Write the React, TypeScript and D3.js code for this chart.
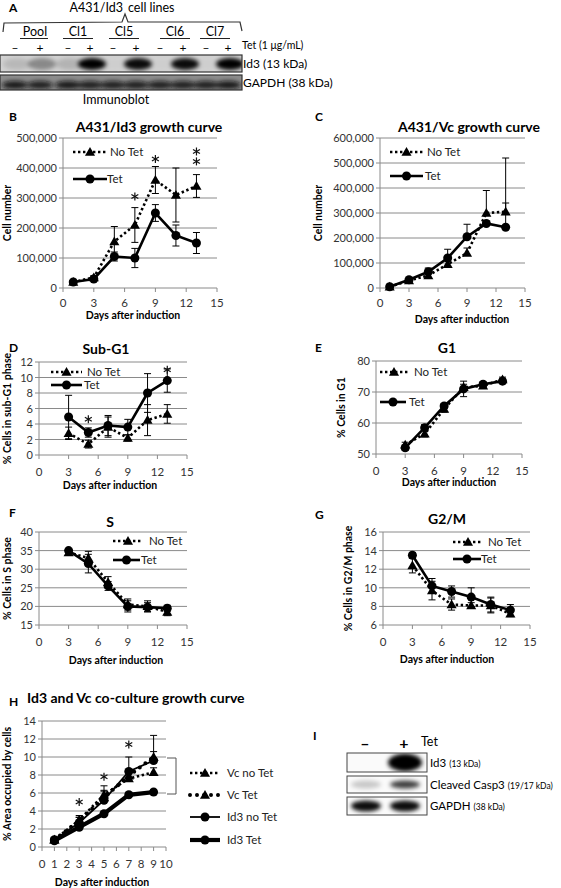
import React from 'react';
import * as d3 from 'd3';

const FONT = "Lato, 'Open Sans', 'DejaVu Sans', sans-serif";

// ---------- data ----------
const growthDays = [1, 3, 5, 7, 9, 11, 13];
const cycleDays = [3, 5, 7, 9, 11, 13];
const coDays = [1, 3, 5, 7, 9];
const xTicks15 = [0, 3, 6, 9, 12, 15];
const xTicks10 = [0, 1, 2, 3, 4, 5, 6, 7, 8, 9, 10];

// B: A431/Id3 growth curve
const bNoTet = [20000, 35000, 155000, 210000, 360000, 310000, 340000];
const bNoTetErr = [5000, 6000, 50000, 58000, 45000, 90000, 38000];
const bTet = [20000, 30000, 105000, 100000, 250000, 175000, 150000];
const bTetErr = [5000, 6000, 15000, 32000, 28000, 35000, 35000];
const bTicks = [0, 100000, 200000, 300000, 400000, 500000];
const bStars = [{ x: 7, y: 305000 }, { x: 9, y: 430000 }, { x: 13, y: 455000 }, { x: 13, y: 422000 }];

// C: A431/Vc growth curve
const cNoTet = [5000, 30000, 50000, 95000, 140000, 300000, 305000];
const cNoTetErr = [3000, 5000, 12000, 15000, 20000, 90000, 35000];
const cTet = [5000, 33000, 65000, 120000, 205000, 258000, 243000];
const cTetErr = [3000, 5000, 15000, 35000, 50000, 10000, 277000];
const cTicks = [0, 100000, 200000, 300000, 400000, 500000, 600000];

// D: Sub-G1
const dNoTet = [2.8, 1.4, 3.6, 2.2, 4.5, 5.3];
const dNoTetErr = [0.8, 0.5, 1.3, 0.4, 2.0, 1.2];
const dTet = [4.9, 2.9, 3.8, 3.6, 8.0, 9.6];
const dTetErr = [2.8, 0.6, 1.3, 1.0, 2.5, 1.5];
const dTicks = [0, 2, 4, 6, 8, 10, 12];
const dStars = [{ x: 5, y: 4.6 }, { x: 13, y: 11.0 }];

// E: G1
const eNoTet = [53, 56.5, 64.5, 71.5, 72, 74];
const eNoTetErr = [0.8, 1, 1, 1, 0.8, 0.8];
const eTet = [52, 58.5, 65.5, 71, 72.5, 73.5];
const eTetErr = [0.8, 1, 0.8, 2.5, 0.8, 0.8];
const eTicks = [50, 60, 70, 80];

// F: S
const fNoTet = [34.5, 33, 26.5, 20.5, 20, 18.5];
const fNoTetErr = [0.8, 1.8, 1.5, 1.5, 1.5, 1];
const fTet = [35, 31.5, 25.5, 20, 19.8, 19.5];
const fTetErr = [0.5, 2.5, 1.2, 1.5, 1.2, 0.8];
const fTicks = [15, 20, 25, 30, 35, 40];

// G: G2/M
const gNoTet = [12.4, 9.7, 8.2, 8.1, 8.1, 7.2];
const gNoTetErr = [0.8, 1, 0.6, 0.3, 0.8, 0.3];
const gTet = [13.5, 10.2, 9.6, 9.0, 8.2, 7.6];
const gTetErr = [0.3, 0.8, 0.6, 1, 0.8, 0.6];
const gTicks = [6, 8, 10, 12, 14, 16];

// H: co-culture
const hVcNoTet = [0.8, 3.0, 5.8, 7.6, 8.3];
const hVcNoTetErr = [0.2, 0.5, 1.0, 0.8, 0.5];
const hVcTet = [0.8, 2.9, 5.5, 7.9, 10.0];
const hVcTetErr = [0.2, 0.4, 0.8, 0.6, 0.6];
const hId3NoTet = [0.8, 2.7, 5.2, 8.4, 9.6];
const hId3NoTetErr = [0.2, 0.6, 1.0, 1.6, 2.8];
const hId3Tet = [0.7, 2.2, 3.7, 5.8, 6.1];
const hId3TetErr = [0.1, 0.2, 0.2, 0.2, 0.3];
const hTicks = [0, 2, 4, 6, 8, 10, 12, 14];
const hStars = [{ x: 3, y: 5.0 }, { x: 5, y: 7.8 }, { x: 7, y: 11.4 }];

// A: blot
const laneLabels = ['Pool', 'Cl1', 'Cl5', 'Cl6', 'Cl7'];
const laneSigns = ['–', '+', '–', '+', '–', '+', '–', '+', '–', '+'];
const id3Intensity = [0.12, 0.35, 0.15, 1, 0.02, 0.95, 0.02, 0.95, 0.02, 1];
const gapdhIntensity = [0.9, 0.85, 0.9, 0.85, 0.85, 0.85, 0.85, 0.85, 0.85, 0.9];

// I: blot
const iSigns = ['–', '+'];
const iRows = ['Id3', 'Cleaved Casp3', 'GAPDH'];
const iSizes = ['(13 kDa)', '(19/17 kDa)', '(38 kDa)'];
const iIntensity = [[0, 1], [0.2, 0.75], [0.95, 0.95]];

// ---------- helpers ----------
type Style = 'dot' | 'solid' | 'bigdot' | 'thin' | 'thick';
type Marker = 'tri' | 'circ';
interface Series { x: number[]; y: number[]; err: number[]; style: Style; marker: Marker; }
interface LegendItem { x1: number; x2: number; y: number; text: string; tx: number; style: Style; marker: Marker; }

const strokeProps = (s: Style): any => {
  switch (s) {
    case 'dot': return { strokeWidth: 2.6, strokeDasharray: '2.4 2.6' };
    case 'bigdot': return { strokeWidth: 4, strokeDasharray: '0 7', strokeLinecap: 'round' };
    case 'thin': return { strokeWidth: 1.8 };
    case 'thick': return { strokeWidth: 4.2 };
    default: return { strokeWidth: 2.6 };
  }
};

const MarkerShape = ({ m, x, y, s = 1 }: { m: Marker; x: number; y: number; s?: number }) =>
  m === 'tri'
    ? <path d={d3.symbol(d3.symbolTriangle, 44 * s)()!} transform={`translate(${x},${y + 0.8})`} fill="#000" />
    : <circle cx={x} cy={y} r={4.5 * s} fill="#000" />;

const Star = ({ x, y }: { x: number; y: number }) => {
  const r = 4;
  const spokes = [90, 30, 150];
  return (
    <g stroke="#111" strokeWidth={1.2}>
      {spokes.map(a => {
        const dx = r * Math.cos((a * Math.PI) / 180);
        const dy = r * Math.sin((a * Math.PI) / 180);
        return <line key={a} x1={x - dx} y1={y - dy} x2={x + dx} y2={y + dy} />;
      })}
    </g>
  );
};

interface PanelProps {
  x0: number; x1: number; yT: number; yB: number;
  xDomain: [number, number]; xTicks: number[];
  yDomain: [number, number]; yTicks: number[]; yFmt?: (v: number) => string;
  series: Series[]; errDir?: 'both' | 'up';
  stars?: { x: number; y: number }[];
  title: string; titleX: number; titleY: number; titleAnchor?: string;
  letter: string; letterX: number; letterY: number;
  yLabel: string; yLabelX: number;
  xLabel: string; xLabelX: number; xLabelY: number;
  legend: LegendItem[];
  tickOff?: number;
}

const Panel = (p: PanelProps) => {
  const xs = d3.scaleLinear().domain(p.xDomain).range([p.x0, p.x1]);
  const ys = d3.scaleLinear().domain(p.yDomain).range([p.yB, p.yT]);
  const fmt = p.yFmt || ((v: number) => String(v));
  const grid = '#8a8a8a';
  const tickOff = p.tickOff ?? 21;
  return (
    <g fontFamily={FONT}>
      <text x={p.letterX} y={p.letterY} fontSize={12} fontWeight="bold">{p.letter}</text>
      <text x={p.titleX} y={p.titleY} fontSize={14} fontWeight="bold" textAnchor={p.titleAnchor || 'middle'}>{p.title}</text>
      {p.yTicks.map(t => (
        <g key={'y' + t}>
          {t !== p.yDomain[0] && <line x1={p.x0} x2={p.x1} y1={ys(t)} y2={ys(t)} stroke={grid} strokeWidth={1} />}
          <line x1={p.x0 - 4} x2={p.x0} y1={ys(t)} y2={ys(t)} stroke={grid} />
          <text x={p.x0 - 6} y={ys(t) + 4} fontSize={11} fill="#333" textAnchor="end">{fmt(t)}</text>
        </g>
      ))}
      <line x1={p.x0} x2={p.x0} y1={p.yT} y2={p.yB} stroke={grid} />
      <line x1={p.x0} x2={p.x1} y1={p.yB} y2={p.yB} stroke={grid} />
      {p.xTicks.map(t => (
        <g key={'x' + t}>
          <line x1={xs(t)} x2={xs(t)} y1={p.yB} y2={p.yB + 4} stroke={grid} />
          <text x={xs(t)} y={p.yB + tickOff} fontSize={11.5} fill="#333" textAnchor="middle">{t}</text>
        </g>
      ))}
      <text transform={`translate(${p.yLabelX},${(p.yT + p.yB) / 2}) rotate(-90)`} fontSize={10.5} fontWeight="bold" textAnchor="middle">{p.yLabel}</text>
      <text x={p.xLabelX} y={p.xLabelY} fontSize={10.5} fontWeight="bold" textAnchor="middle">{p.xLabel}</text>
      {p.series.map((s, i) => {
        const line = d3.line<number>().x((_, j) => xs(s.x[j])).y(v => ys(v));
        return (
          <g key={'s' + i}>
            <path d={line(s.y)!} fill="none" stroke="#000" {...strokeProps(s.style)} />
            {s.y.map((v, j) => <MarkerShape key={j} m={s.marker} x={xs(s.x[j])} y={ys(v)} />)}
          </g>
        );
      })}
      {p.series.map((s, i) => (
        <g key={'e' + i}>
          {s.y.map((v, j) => {
            const cx = xs(s.x[j]);
            const top = ys(v + s.err[j]);
            const bot = p.errDir === 'up' ? ys(v) : ys(Math.max(p.yDomain[0], v - s.err[j]));
            return (
              <g key={j} stroke="#000" strokeWidth={1}>
                <line x1={cx} x2={cx} y1={top} y2={bot} />
                <line x1={cx - 3.5} x2={cx + 3.5} y1={top} y2={top} />
                {p.errDir !== 'up' && <line x1={cx - 3.5} x2={cx + 3.5} y1={bot} y2={bot} />}
              </g>
            );
          })}
        </g>
      ))}
      {(p.stars || []).map((st, i) => <Star key={'st' + i} x={xs(st.x)} y={ys(st.y)} />)}
      {p.legend.map((l, i) => (
        <g key={'l' + i}>
          <line x1={l.x1} x2={l.x2} y1={l.y} y2={l.y} stroke="#000" {...strokeProps(l.style)} />
          <MarkerShape m={l.marker} x={(l.x1 + l.x2) / 2} y={l.y} />
          <text x={l.tx} y={l.y + 4} fontSize={11.5} fill="#222">{l.text}</text>
        </g>
      ))}
    </g>
  );
};

const comma = d3.format(',');

const BlotA = () => {
  const lanes = [15, 40, 68, 90, 113, 136, 160, 183, 206, 228];
  const labelX = [35, 78, 124, 175, 215];
  const ul = [[20, 48], [63, 93], [109, 139], [160, 190], [200, 230]];
  return (
    <g fontFamily={FONT}>
      <text x={9} y={12} fontSize={12} fontWeight="bold">A</text>
      <text x={123} y={12} fontSize={12.5} textAnchor="end">A431/Id3</text>
      <text x={128} y={12} fontSize={12.5}>cell lines</text>
      <path d="M3,32 L4,23 L122,22 L125,14 L128,22 L240,22 L242,31" fill="none" stroke="#333" strokeWidth={1.2} />
      {laneLabels.map((t, i) => (
        <g key={t}>
          <text x={labelX[i]} y={36} fontSize={12.5} textAnchor="middle">{t}</text>
          <line x1={ul[i][0]} x2={ul[i][1]} y1={38.5} y2={38.5} stroke="#222" strokeWidth={1} />
        </g>
      ))}
      {laneSigns.map((s, i) => (
        <text key={i} x={lanes[i]} y={52} fontSize={12} textAnchor="middle">{s}</text>
      ))}
      <text x={242} y={49} fontSize={10.5}>Tet (1 μg/mL)</text>
      <defs>
        <clipPath id="clipA1"><rect x={0} y={55} width={242} height={17} /></clipPath>
        <clipPath id="clipA2"><rect x={0} y={75} width={242} height={15} /></clipPath>
        <clipPath id="clipI1"><rect x={347} y={753} width={80} height={19} /></clipPath>
        <clipPath id="clipI2"><rect x={347} y={776} width={80} height={17} /></clipPath>
        <clipPath id="clipI3"><rect x={347} y={797} width={80} height={18} /></clipPath>
        <filter id="blur" x="-50%" y="-50%" width="200%" height="200%"><feGaussianBlur stdDeviation="2.2" /></filter>
      </defs>
      <rect x={0} y={55} width={242} height={17} fill="#d2d2d2" />
      <g clipPath="url(#clipA1)" filter="url(#blur)">
        {lanes.map((x, i) => (
          <ellipse key={i} cx={x + 2} cy={64} rx={14} ry={6} fill="#000" opacity={id3Intensity[i]} />
        ))}
      </g>
      <rect x={0} y={55} width={242} height={17} fill="none" stroke="#333" strokeWidth={1.2} />
      <rect x={0} y={75} width={242} height={15} fill="#8c8c8c" />
      <g clipPath="url(#clipA2)" filter="url(#blur)">
        {lanes.map((x, i) => (
          <ellipse key={i} cx={x} cy={85} rx={13} ry={4} fill="#111" opacity={gapdhIntensity[i]} />
        ))}
      </g>
      <rect x={0} y={75} width={242} height={15} fill="none" stroke="#333" strokeWidth={1.2} />
      <text x={243} y={68} fontSize={12}>Id3 (13 kDa)</text>
      <text x={243} y={87} fontSize={12}>GAPDH (38 kDa)</text>
      <text x={116} y={104} fontSize={12.5} textAnchor="middle">Immunoblot</text>
    </g>
  );
};

const BlotI = () => {
  const lanes = [365, 404];
  const rows = [[753, 19], [776, 17], [797, 18]];
  return (
    <g fontFamily={FONT}>
      <text x={313} y={740} fontSize={12} fontWeight="bold">I</text>
      {iSigns.map((s, i) => (
        <text key={i} x={lanes[i]} y={749} fontSize={16} fontWeight="bold" textAnchor="middle">{s}</text>
      ))}
      <text x={421} y={746} fontSize={12.5}>Tet</text>
      {rows.map(([y, h], r) => (
        <g key={r}>
          <rect x={347} y={y} width={80} height={h} fill="#fafafa" />
          <g clipPath={`url(#clipI${r + 1})`} filter="url(#blur)">
            {lanes.map((x, i) => (
              <ellipse key={i} cx={x + 1} cy={y + h / 2} rx={r === 0 ? 17 : 15} ry={r === 0 ? 9 : r === 1 ? 4 : 5.5} fill="#000" opacity={iIntensity[r][i]} />
            ))}
          </g>
          <rect x={347} y={y} width={80} height={h} fill="none" stroke="#444" strokeWidth={1} />
          <text x={430} y={y + h / 2 + 4} fontSize={11.5}>
            {iRows[r]} <tspan fontSize={8.5}>{iSizes[r]}</tspan>
          </text>
        </g>
      ))}
    </g>
  );
};

export default function App() {
  const noTetLeg = (x1: number, x2: number, y: number, tx: number): LegendItem => ({ x1, x2, y, tx, text: 'No Tet', style: 'dot', marker: 'tri' });
  const tetLeg = (x1: number, x2: number, y: number, tx: number): LegendItem => ({ x1, x2, y, tx, text: 'Tet', style: 'solid', marker: 'circ' });
  const two = (xs: number[], a: number[], ae: number[], b: number[], be: number[]): Series[] => [
    { x: xs, y: a, err: ae, style: 'dot', marker: 'tri' },
    { x: xs, y: b, err: be, style: 'solid', marker: 'circ' },
  ];
  return (
    <svg width={561} height={888} style={{ position: 'absolute', left: 0, top: 0, background: '#fff' }}>
      <rect width={561} height={888} fill="#fff" />
      <BlotA />
      <Panel x0={63} x1={217} yT={138} yB={288} xDomain={[0, 15]} xTicks={xTicks15} yDomain={[0, 500000]} yTicks={bTicks} yFmt={comma}
        series={two(growthDays, bNoTet, bNoTetErr, bTet, bTetErr)} stars={bStars}
        title="A431/Id3 growth curve" titleX={149} titleY={132} letter="B" letterX={9} letterY={121}
        yLabel="Cell number" yLabelX={11} xLabel="Days  after induction" xLabelX={133} xLabelY={319} tickOff={19}
        legend={[noTetLeg(73, 107, 152, 110), tetLeg(73, 107, 179, 107)]} />
      <Panel x0={380} x1={525} yT={138} yB={288} xDomain={[0, 15]} xTicks={xTicks15} yDomain={[0, 600000]} yTicks={cTicks} yFmt={comma}
        series={two(growthDays, cNoTet, cNoTetErr, cTet, cTetErr)} errDir="up"
        title="A431/Vc growth curve" titleX={469} titleY={132} letter="C" letterX={315} letterY={121}
        yLabel="Cell number" yLabelX={322} xLabel="Days  after induction" xLabelX={462} xLabelY={323} tickOff={19}
        legend={[noTetLeg(390, 423, 152, 427), tetLeg(390, 423, 176, 425)]} />
      <Panel x0={39} x1={187} yT={362} yB={455} xDomain={[0, 15]} xTicks={xTicks15} yDomain={[0, 12]} yTicks={dTicks}
        series={two(cycleDays, dNoTet, dNoTetErr, dTet, dTetErr)} stars={dStars}
        title="Sub-G1" titleX={106} titleY={354} letter="D" letterX={9} letterY={352}
        yLabel="% Cells in  sub-G1 phase" yLabelX={11} xLabel="Days  after induction" xLabelX={110} xLabelY={489}
        legend={[noTetLeg(51, 82, 372, 87), tetLeg(51, 82, 385, 84)]} />
      <Panel x0={376} x1={522} yT={361} yB={454} xDomain={[0, 15]} xTicks={xTicks15} yDomain={[50, 80]} yTicks={eTicks}
        series={two(cycleDays, eNoTet, eNoTetErr, eTet, eTetErr)}
        title="G1" titleX={447} titleY={353} letter="E" letterX={315} letterY={352}
        yLabel="% Cells in G1" yLabelX={345} xLabel="Days  after induction" xLabelX={449} xLabelY={486}
        legend={[noTetLeg(380, 408, 372, 414), tetLeg(380, 406, 402, 409)]} />
      <Panel x0={39} x1={187} yT={532} yB={625} xDomain={[0, 15]} xTicks={xTicks15} yDomain={[15, 40]} yTicks={fTicks}
        series={two(cycleDays, fNoTet, fNoTetErr, fTet, fTetErr)}
        title="S" titleX={110} titleY={527} letter="F" letterX={9} letterY={517}
        yLabel="% Cells in  S  phase" yLabelX={11} xLabel="Days  after induction" xLabelX={116} xLabelY={664}
        legend={[noTetLeg(113, 143, 541, 149), tetLeg(113, 140, 560, 141)]} />
      <Panel x0={383} x1={530} yT={532} yB={625} xDomain={[0, 15]} xTicks={xTicks15} yDomain={[6, 16]} yTicks={gTicks}
        series={two(cycleDays, gNoTet, gNoTetErr, gTet, gTetErr)}
        title="G2/M" titleX={447} titleY={524} letter="G" letterX={315} letterY={519}
        yLabel="% Cells in  G2/M phase" yLabelX={352} xLabel="Days  after induction" xLabelX={447} xLabelY={663}
        legend={[noTetLeg(453, 483, 542, 488), tetLeg(453, 481, 559, 481)]} />
      <Panel x0={42} x1={166} yT={721} yB={847} xDomain={[0, 10]} xTicks={xTicks10} yDomain={[0, 14]} yTicks={hTicks}
        series={[
          { x: coDays, y: hVcNoTet, err: hVcNoTetErr, style: 'dot', marker: 'tri' },
          { x: coDays, y: hVcTet, err: hVcTetErr, style: 'bigdot', marker: 'tri' },
          { x: coDays, y: hId3NoTet, err: hId3NoTetErr, style: 'thin', marker: 'circ' },
          { x: coDays, y: hId3Tet, err: hId3TetErr, style: 'thick', marker: 'circ' },
        ]} stars={hStars} errDir="up"
        title="Id3 and Vc co-culture growth curve" titleX={27} titleY={703} titleAnchor="start" letter="H" letterX={9} letterY={706}
        yLabel="% Area occupied by cells" yLabelX={11} xLabel="Days  after induction" xLabelX={102} xLabelY={886}
        legend={[
          { x1: 190, x2: 220, y: 773, tx: 227, text: 'Vc no Tet', style: 'dot', marker: 'tri' },
          { x1: 190, x2: 220, y: 795, tx: 227, text: 'Vc Tet', style: 'bigdot', marker: 'tri' },
          { x1: 190, x2: 220, y: 817, tx: 227, text: 'Id3 no Tet', style: 'thin', marker: 'circ' },
          { x1: 190, x2: 220, y: 840, tx: 227, text: 'Id3 Tet', style: 'thick', marker: 'circ' },
        ]} />
      <path d="M167,758 L176,758 L176,794 L167,794" fill="none" stroke="#555" strokeWidth={1} />
      <BlotI />
    </svg>
  );
}
